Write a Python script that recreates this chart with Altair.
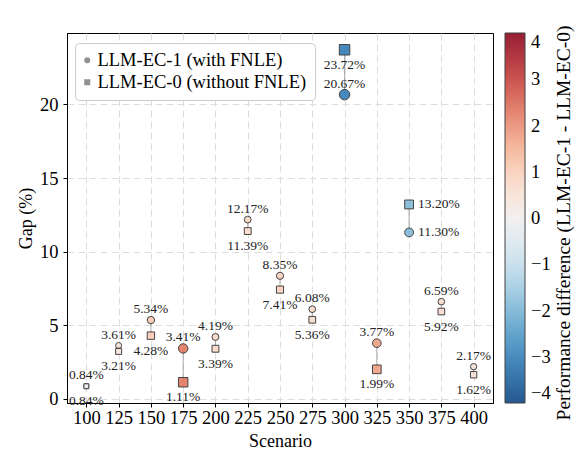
import altair as alt
import pandas as pd

scenarios = [100, 125, 150, 175, 200, 225, 250, 275, 300, 325, 350, 375, 400]
ec1 = [0.84, 3.61, 5.34, 3.41, 4.19, 12.17, 8.35, 6.08, 20.67, 3.77, 11.30, 6.59, 2.17]
ec0 = [0.84, 3.21, 4.28, 1.11, 3.39, 11.39, 7.41, 5.36, 23.72, 1.99, 13.20, 5.92, 1.62]
series_names = ["LLM-EC-1 (with FNLE)", "LLM-EC-0 (without FNLE)"]
colorbar_title = ["Performance difference (LLM-EC-1 - LLM-EC-0)"]
side_label_scenario = 350
y_ticks = [0, 5, 10, 15, 20]
color_ticks = [-4, -3, -2, -1, 0, 1, 2, 3, 4]

FONT = "'Liberation Serif', 'Times New Roman', Times, serif"

wide = pd.DataFrame({"scenario": scenarios, "gap": ec1, "gap0": ec0})
diff = [a - b for a, b in zip(ec1, ec0)]
long = pd.concat([
    pd.DataFrame({"scenario": scenarios, "gap": ec1, "series": series_names[0], "diff": diff}),
    pd.DataFrame({"scenario": scenarios, "gap": ec0, "series": series_names[1], "diff": diff}),
], ignore_index=True)
long["absdiff"] = long["diff"].abs()
long["label"] = long["gap"].map(lambda v: f"{v:.2f}%")

x_enc = alt.X("scenario:Q",
              scale=alt.Scale(domain=[85, 415], nice=False, zero=False),
              axis=alt.Axis(values=scenarios, title="Scenario", format="d"))
y_enc = alt.Y("gap:Q",
              scale=alt.Scale(domain=[-0.3, 24.86], nice=False, zero=False),
              axis=alt.Axis(values=y_ticks, title="Gap (%)"))

rules = alt.Chart(wide).mark_rule(color="#888888", strokeWidth=1, opacity=0.7).encode(
    x=x_enc, y=y_enc, y2="gap0:Q"
)

points = alt.Chart(long).mark_point(filled=True, stroke="#333333", strokeWidth=1, opacity=0.92).encode(
    x=x_enc,
    y=y_enc,
    color=alt.Color("diff:Q",
                    scale=alt.Scale(domain=[-4, 4], scheme=alt.SchemeParams(name="redblue", extent=[1, 0])),
                    legend=alt.Legend(orient="none", legendX=438, legendY=0, direction="vertical",
                                      gradientLength=370, gradientThickness=20, values=color_ticks,
                                      title=None, labelFontSize=18.5, labelFont=FONT,
                                      labelOffset=6, labelOverlap=False, labelBaseline="middle",
                                      gradientStrokeColor="#333333", gradientStrokeWidth=1)),
    shape=alt.Shape("series:N",
                    scale=alt.Scale(domain=series_names, range=["circle", "square"]),
                    legend=alt.Legend(orient="none", legendX=8, legendY=10, title=None,
                                      labelFontSize=18.5, labelFont=FONT, symbolSize=36,
                                      symbolFillColor="#888888", symbolStrokeWidth=0,
                                      symbolOffset=-5, labelOffset=1,
                                      strokeColor="#cccccc", fillColor="white", cornerRadius=4,
                                      padding=8, rowPadding=3, labelLimit=400)),
    size=alt.Size("absdiff:Q", scale=alt.Scale(zero=True, range=[25, 110]), legend=None),
    order=alt.Order("series:N", sort="descending"),
)

above = alt.Chart(long).mark_text(font=FONT, fontSize=13.5, color="#222222", baseline="alphabetic", dy=-7).encode(
    x=x_enc, y=y_enc, text="label:N"
).transform_filter(
    (alt.datum.series == series_names[0]) & (alt.datum.scenario != side_label_scenario)
)

below = alt.Chart(long).mark_text(font=FONT, fontSize=13.5, color="#222222", baseline="top", dy=8).encode(
    x=x_enc, y=y_enc, text="label:N"
).transform_filter(
    (alt.datum.series == series_names[1]) & (alt.datum.scenario != side_label_scenario)
)

side = alt.Chart(long).mark_text(font=FONT, fontSize=13.5, color="#222222", baseline="middle", align="left", dx=9).encode(
    x=x_enc, y=y_enc, text="label:N"
).transform_filter(alt.datum.scenario == side_label_scenario)

cbar_title = alt.Chart(pd.DataFrame({"t": colorbar_title})).mark_text(
    font=FONT, fontSize=19.5, color="black", angle=270, baseline="middle", align="center"
).encode(text="t:N", x=alt.value(497), y=alt.value(190))

chart = alt.layer(rules, points, above, below, side, cbar_title).properties(
    width=426, height=370,
    autosize=alt.AutoSizeParams(type="none"),
    padding={"left": 59, "top": 25, "right": 82, "bottom": 47},
).configure_view(
    stroke="black", strokeWidth=1
).configure_axis(
    labelFont=FONT, titleFont=FONT, labelFontSize=18.5, titleFontSize=18,
    labelColor="black", titleColor="black", titleFontWeight="normal",
    domainColor="black", tickColor="black", tickSize=4,
    gridColor="#dddddd", gridDash=[7, 4], gridWidth=1,
).configure_axisX(
    labelPadding=1, titlePadding=6
).configure_axisY(
    labelPadding=5, titlePadding=4
)

chart.save("out.html", embed_options={"renderer": "svg", "actions": False})
